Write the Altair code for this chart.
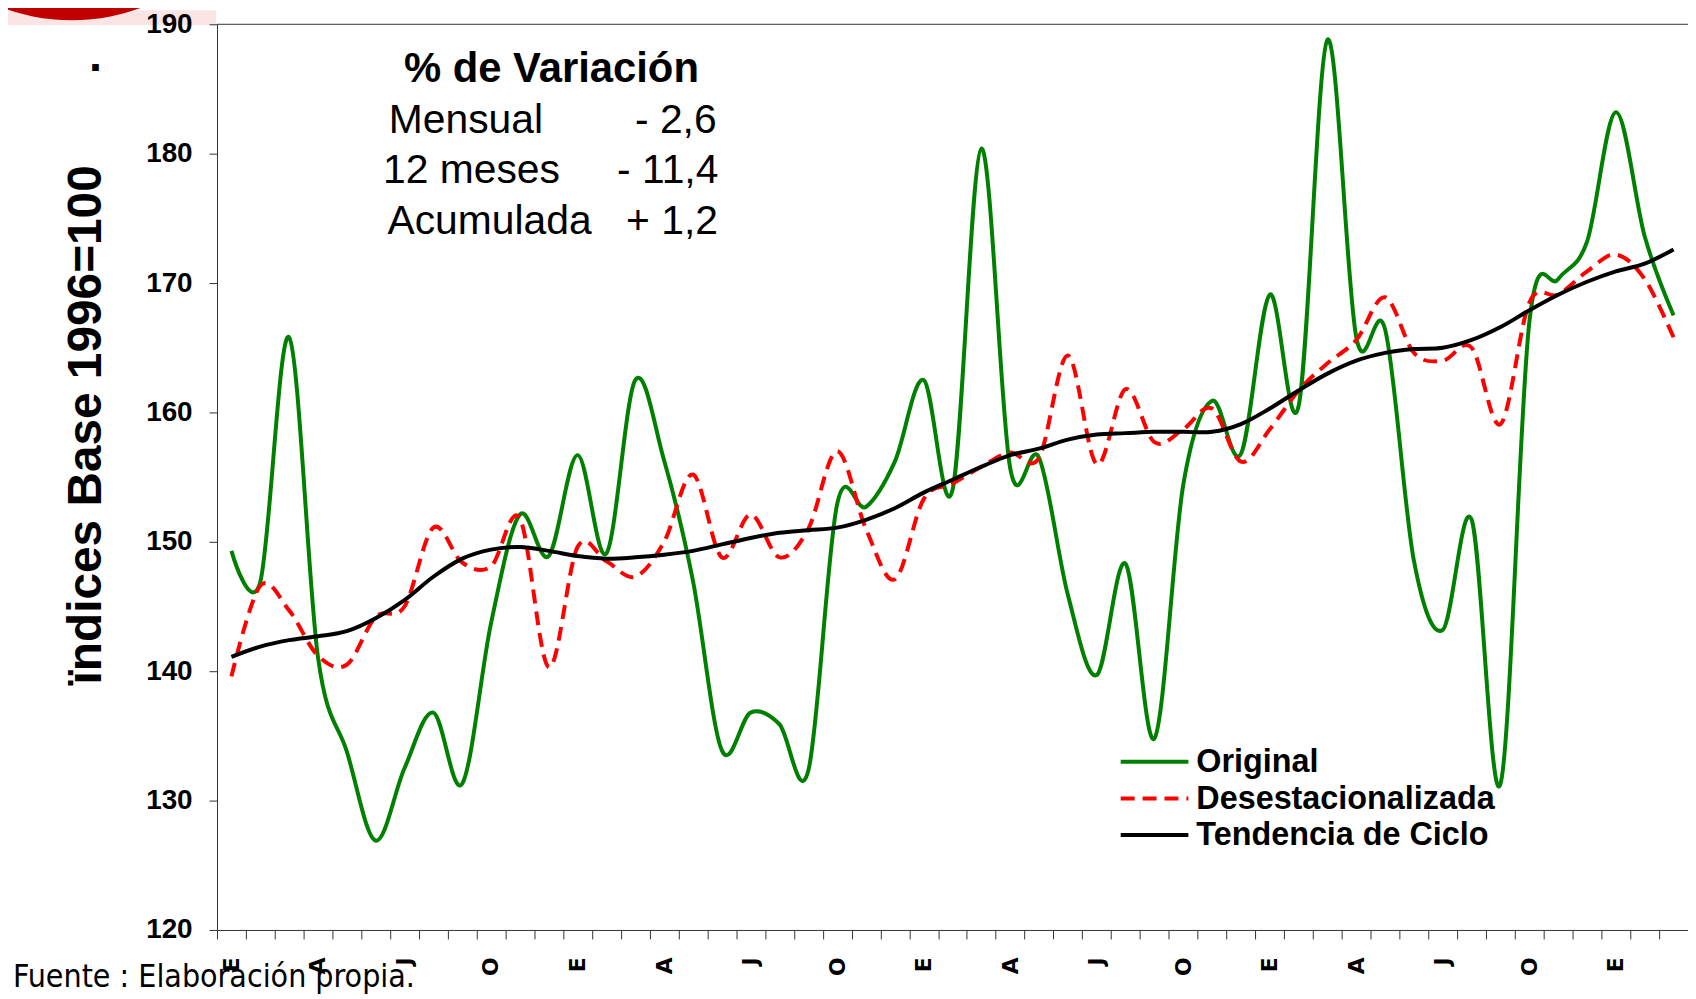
import altair as alt
import pandas as pd

# ---- data ----
MESES = ["E", "F", "M", "A", "M", "J", "J", "A", "S", "O", "N", "D"]

original = [149.3, 146.9, 165.8, 141.1, 133.8, 126.9, 132.5, 136.8, 131.3, 143.7,
            152.1, 148.9, 156.7, 149.1, 162.5, 156.3, 147.0, 133.9, 136.8, 135.9,
            132.3, 152.9, 152.7, 156.2, 162.5, 154.0, 180.4, 155.7, 156.5, 145.9,
            139.7, 148.3, 134.8, 154.4, 160.9, 156.8, 169.1, 160.5, 188.8, 165.8,
            166.4, 148.5, 143.2, 151.7, 131.3, 167.0, 170.3, 173.2, 183.2, 173.6, 167.5]

desestacionalizada = [139.6, 146.6, 144.7, 141.2, 140.5, 144.2, 145.0, 151.1, 148.4, 148.1,
                      151.8, 140.3, 149.6, 148.5, 147.3, 150.0, 155.2, 148.8, 152.1, 148.8,
                      151.0, 157.0, 151.0, 147.1, 153.3, 154.5, 155.8, 156.9, 156.5, 164.4,
                      156.0, 161.8, 157.7, 158.7, 160.3, 156.2, 158.7, 161.7, 163.8, 165.6,
                      168.9, 164.6, 164.0, 165.0, 159.1, 168.5, 169.1, 170.9, 172.2, 170.3, 165.8]

tendencia = [141.1, 141.9, 142.4, 142.7, 143.1, 144.1, 145.5, 147.3, 148.7, 149.4,
             149.6, 149.3, 148.9, 148.7, 148.8, 149.0, 149.3, 149.8, 150.3, 150.7,
             150.9, 151.1, 151.7, 152.6, 153.8, 154.8, 155.8, 156.7, 157.2, 157.9,
             158.3, 158.4, 158.5, 158.5, 158.5, 159.1, 160.3, 161.7, 163.0, 164.0,
             164.6, 164.9, 165.0, 165.6, 166.6, 167.9, 169.1, 170.1, 170.9, 171.5, 172.6]

series_names = ["Original", "Desestacionalizada", "Tendencia de Ciclo"]
series_colors = ["#008000", "#FF0000", "#000000"]

N = len(original)
W, H = 1478, 910

def frame(vals):
    return pd.DataFrame({"mes": list(range(N)), "valor": vals})

js_meses = "[" + ",".join("'" + m + "'" for m in MESES) + "]"
label_expr = ("datum.value % 3 == 0 && datum.value < " + str(N) + " ? "
              + js_meses + "[datum.value % 12] : ''")

x_axis = alt.Axis(
    values=list(range(N + 1)),
    labelExpr=label_expr,
    labelAngle=270, labelOffset=W / N / 2,
    labelPadding=18, labelFont="DejaVu Sans", labelFontWeight="bold", labelFontSize=22,
    labelColor="#000", labelOverlap=False, labelFlush=False, labelBound=False,
    tickSize=9, tickColor="#333", domainColor="#333", grid=False, title=None, zindex=1,
)
y_axis = alt.Axis(
    values=list(range(120, 191, 10)), labelFont="Liberation Sans", labelFontWeight="bold",
    labelFontSize=28, labelColor="#000", labelPadding=17, tickSize=8, tickColor="#333",
    domainColor="#333", grid=False, zindex=1,
    title="ïndices Base 1996=100", titleFont="Liberation Sans", titleFontSize=48,
    titleFontWeight="bold", titleColor="#000", titleAngle=270, titleAlign="center",
    titleBaseline="alphabetic", titleX=-117, titleY=402,
)

def serie(vals, color, dash=None):
    df = frame(vals)
    kw = dict(color=color, strokeWidth=4, interpolate="cardinal")
    if dash:
        kw["strokeDash"] = dash
    ch = alt.Chart(df).transform_calculate(pos="datum.mes + 0.5").mark_line(**kw)
    return ch.encode(
        x=alt.X("pos:Q", scale=alt.Scale(domain=[0, N], nice=False, zero=False), axis=x_axis),
        y=alt.Y("valor:Q", scale=alt.Scale(domain=[120, 190], nice=False, zero=False), axis=y_axis),
    )

one = pd.DataFrame({"k": [0]})

def txt(t, x, y, size, bold=False, align="left", font="Liberation Sans", color="#000"):
    return alt.Chart(one).mark_text(
        text=t, align=align, baseline="alphabetic", fontSize=size,
        fontWeight="bold" if bold else "normal", font=font, color=color,
    ).encode(x=alt.value(x), y=alt.value(y))

layers = []
# decorative logo fragment (top-left)
layers.append(alt.Chart(one).mark_rect(color="#fbe4e4").encode(
    x=alt.value(-218), x2=alt.value(-1), y=alt.value(-14), y2=alt.value(1)))
layers.append(alt.Chart(one).mark_arc(radius=200, theta=0, theta2=6.2832, color="#c00000").encode(
    x=alt.value(-146), y=alt.value(-204)))
# top frame line
layers.append(alt.Chart(one).mark_rule(color="#333", strokeWidth=1).encode(
    x=alt.value(0), x2=alt.value(W), y=alt.value(0)))

layers.append(serie(original, series_colors[0]))
layers.append(serie(desestacionalizada, series_colors[1], dash=[14, 8]))
layers.append(serie(tendencia, series_colors[2]))

# annotation box
layers.append(txt("% de Variación", 336, 58, 42, bold=True, align="center"))
layers.append(txt("Mensual", 172.6, 109.5, 41))
layers.append(txt("- 2,6", 420, 109.5, 41))
layers.append(txt("12 meses", 166.8, 159.5, 41))
layers.append(txt("- 11,4", 402, 159.5, 41))
layers.append(txt("Acumulada", 171.3, 211, 41))
layers.append(txt("+ 1,2", 411, 211, 41))

# legend (drawn manually)
leg_y = [741, 778, 814.5]
for name, col, ly in zip(series_names, series_colors, leg_y):
    kw = dict(color=col, strokeWidth=4)
    if name == "Desestacionalizada":
        kw["strokeDash"] = [14, 8]
    layers.append(alt.Chart(one).mark_rule(**kw).encode(
        x=alt.value(908), x2=alt.value(976), y=alt.value(ly)))
    layers.append(txt(name, 984, ly + 10.5, 32.5, bold=True))

# stray dot and source note
layers.append(txt(".", -122, 46.5, 47, bold=True, align="center"))
layers.append(txt("Fuente : Elaboración propia.", -205, 967, 32,
                  font="DejaVu Sans Condensed, Liberation Sans"))

chart = alt.layer(*layers).properties(
    width=W, height=H,
    padding={"left": 210, "top": 14, "right": 0, "bottom": 67},
    autosize=alt.AutoSizeParams(type="none"),
    background="white",
).configure_view(stroke=None)

chart.save("out.html", embed_options={"renderer": "svg", "actions": False})
